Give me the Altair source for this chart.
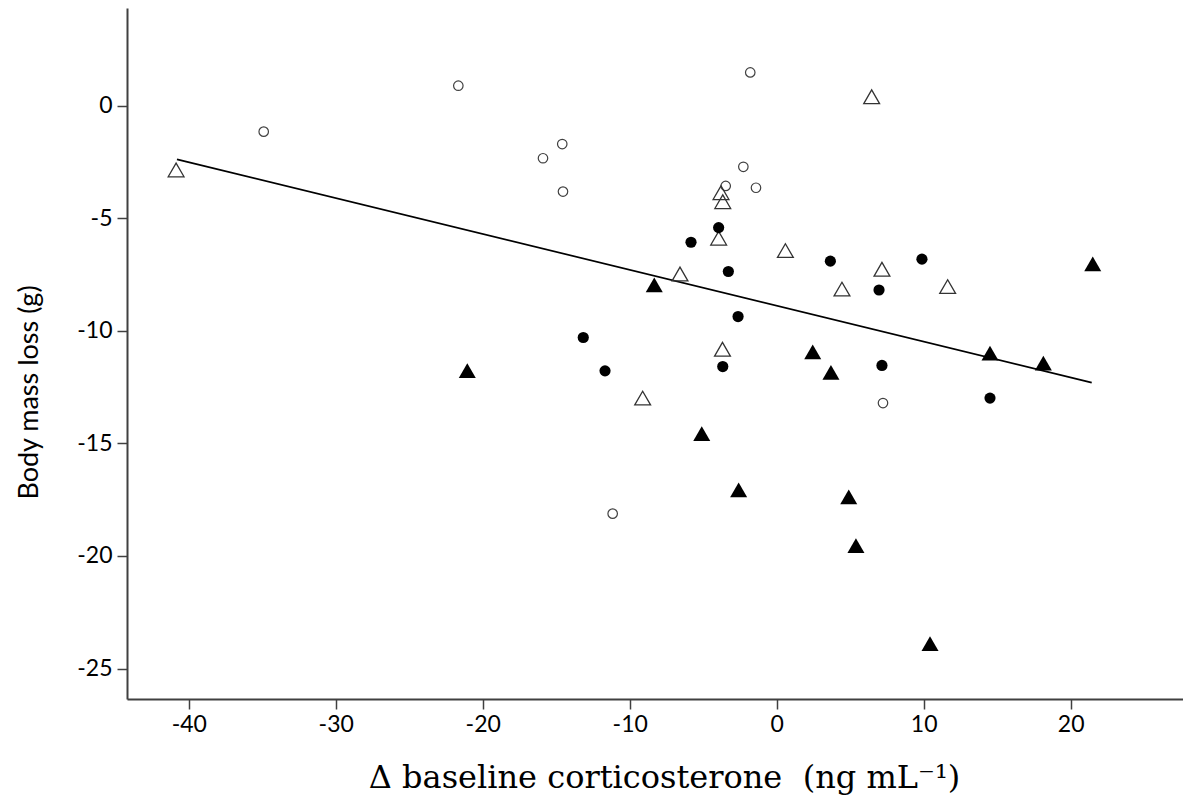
import altair as alt
import pandas as pd

# Open circles
oc_x = [-34.9, -21.66, -15.9, -14.59, -14.54, -1.80, -2.27, -3.47, -1.41, -11.16, 7.23]
oc_y = [-1.16, 0.88, -2.34, -1.71, -3.82, 1.47, -2.72, -3.57, -3.65, -18.12, -13.21]
# Open triangles
ot_x = [-40.86, 6.46, -3.79, -3.67, -3.95, 0.59, -6.58, 4.44, 7.16, 11.63, -3.69, -9.12]
ot_y = [-2.86, 0.39, -3.87, -4.27, -5.89, -6.44, -7.48, -8.15, -7.27, -8.04, -10.82, -12.99]
# Filled circles
fc_x = [-3.95, -5.83, 3.65, 9.88, -3.29, 6.96, -2.63, -13.16, -11.68, -3.67, 7.16, 14.51]
fc_y = [-5.42, -6.07, -6.91, -6.82, -7.37, -8.19, -9.37, -10.30, -11.78, -11.59, -11.54, -12.99]
# Filled triangles
ft_x = [-8.33, -21.05, 2.45, 3.69, 14.51, 18.14, 21.50, -5.10, -2.59, 4.90, 5.39, 10.43]
ft_y = [-7.96, -11.77, -10.94, -11.85, -10.99, -11.44, -7.03, -14.57, -17.06, -17.38, -19.54, -23.89]
# Fit line
fit_x = [-40.8, 21.43]
fit_y = [-2.39, -12.30]

x_ticks = [-40, -30, -20, -10, 0, 10, 20]
y_ticks = [0, -5, -10, -15, -20, -25]

X_DOMAIN = [-44.2, 27.64]
Y_DOMAIN = [-26.35, 4.33]

AX = "#404040"
LABEL_FONT = "Lato"

xs = alt.Scale(domain=X_DOMAIN, nice=False, zero=False)
ys = alt.Scale(domain=Y_DOMAIN, nice=False, zero=False)

x_axis = alt.Axis(
    values=x_ticks, grid=False, tickSize=10, tickColor=AX, tickWidth=1.5,
    domainColor=AX, domainWidth=2, labelFont=LABEL_FONT, labelFontSize=23,
    labelColor="black", labelPadding=4, labelExpr="'' + datum.value",
    title="Δ baseline corticosterone\u00a0 (ng mL⁻¹)",
    titleFont="DejaVu Serif", titleFontSize=32, titleFontWeight="normal",
    titleColor="black", titleX=537, titleY=78, titleAlign="center",
    titleBaseline="middle", titleAnchor="middle"
)
y_axis = alt.Axis(
    values=y_ticks, grid=False, tickSize=10, tickColor=AX, tickWidth=1.5,
    domainColor=AX, domainWidth=2, labelFont=LABEL_FONT, labelFontSize=23,
    labelColor="black", labelPadding=5, labelExpr="'' + datum.value",
    title="Body mass loss (g)",
    titleFont=LABEL_FONT, titleFontSize=27, titleFontWeight="normal",
    titleColor="black", titleX=-98, titleY=384, titleAngle=270,
    titleAlign="center", titleBaseline="middle"
)


def layer(xv, yv, **mark):
    df = pd.DataFrame({"x": xv, "y": yv})
    return alt.Chart(df).mark_point(**mark).encode(
        x=alt.X("x:Q", scale=xs, axis=x_axis),
        y=alt.Y("y:Q", scale=ys, axis=y_axis),
    )


fit_df = pd.DataFrame({"x": fit_x, "y": fit_y})
fit = alt.Chart(fit_df).mark_line(color="black", strokeWidth=1.7).encode(
    x=alt.X("x:Q", scale=xs, axis=x_axis),
    y=alt.Y("y:Q", scale=ys, axis=y_axis),
)

oc = layer(oc_x, oc_y, shape="circle", size=90, filled=False,
           fillOpacity=0, stroke="#404040", strokeWidth=1.2, opacity=1)
ot = layer(ot_x, ot_y, shape="triangle-up", size=250, filled=False,
           fillOpacity=0, stroke="#333333", strokeWidth=1.3, opacity=1)
fc = layer(fc_x, fc_y, shape="circle", size=125, filled=True,
           color="black", opacity=1)
ft = layer(ft_x, ft_y, shape="triangle-up", size=290, filled=True,
           color="black", opacity=1)

chart = alt.layer(fit, oc, ot, fc, ft).properties(
    width=1056, height=691,
    background="white",
    autosize=alt.AutoSizeParams(type="none"),
    padding={"left": 119, "top": 0, "right": 0, "bottom": 100},
).configure_view(strokeWidth=0, stroke="transparent")

chart.save("out.html", embed_options={"renderer": "svg", "actions": False})
